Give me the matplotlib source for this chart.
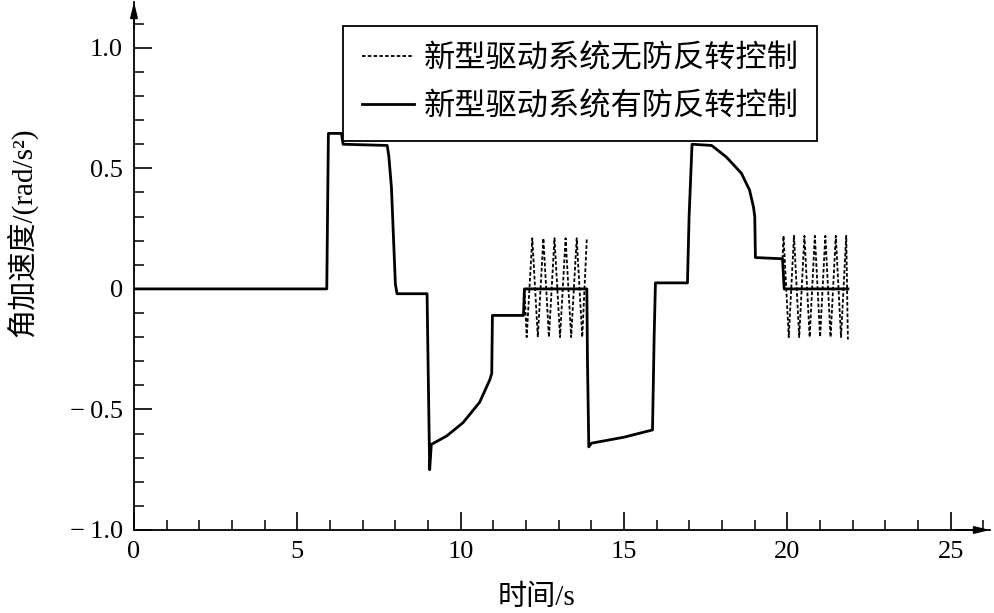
import matplotlib
matplotlib.use('Agg')
import matplotlib.pyplot as plt
import numpy as np
from matplotlib.ticker import MultipleLocator

# ---- data ----
# with anti-reversal control (solid)
solid_t = [0, 5.9, 5.95, 6.35, 6.4, 7.75, 7.8, 7.88, 8.0, 8.05, 8.97, 9.0, 9.05, 9.1,
           9.57, 10.07, 10.58, 10.89, 10.95, 10.97, 11.92, 11.95, 13.86, 13.88, 13.92,
           14.0, 15.0, 15.87, 15.92, 15.96, 16.94, 16.99, 17.08, 17.68, 18.13, 18.59,
           18.84, 18.96, 19.0, 19.02, 19.85, 19.9, 21.85]
solid_y = [0, 0, 0.645, 0.645, 0.6, 0.595, 0.55, 0.42, 0.02, -0.02, -0.02, -0.3, -0.75, -0.645,
           -0.61, -0.555, -0.47, -0.377, -0.35, -0.11, -0.11, 0.0, 0.0, -0.3, -0.655,
           -0.64, -0.615, -0.585, -0.2, 0.025, 0.025, 0.3, 0.6, 0.595, 0.547, 0.48,
           0.41, 0.34, 0.30, 0.13, 0.125, 0.0, 0.0]

# without anti-reversal control (dashed) - oscillating parts (elsewhere it coincides)
osc1_t = [11.95, 12.02, 12.19, 12.36, 12.53, 12.70, 12.87, 13.04, 13.21, 13.38, 13.55, 13.72, 13.86]
osc1_y = [0.0, -0.20, 0.21, -0.20, 0.21, -0.20, 0.21, -0.20, 0.21, -0.20, 0.21, -0.20, 0.21]
osc2_t = [19.85, 19.88, 20.04, 20.20, 20.36, 20.52, 20.68, 20.84, 21.00, 21.16, 21.32, 21.48, 21.64, 21.80, 21.85]
osc2_y = [0.125, 0.22, -0.20, 0.22, -0.20, 0.22, -0.20, 0.22, -0.20, 0.22, -0.20, 0.22, -0.20, 0.22, -0.21]

labels = ['新型驱动系统无防反转控制', '新型驱动系统有防反转控制']
yticks = [-1.0, -0.5, 0, 0.5, 1.0]
yticklabels = ['\u2212\u20091.0', '\u2212\u20090.5', '0', '0.5', '1.0']
xticks = [0, 5, 10, 15, 20, 25]
xticklabels = ['0', '5', '10', '15', '20', '25']

plt.rcParams['font.family'] = ['Liberation Serif', 'Noto Sans CJK SC', 'DejaVu Sans']

fig = plt.figure(figsize=(9.95, 6.13), dpi=100)
W, H = 995, 613
ax = fig.add_axes([134 / W, (H - 530) / H, (990 - 134) / W, (530 - 2) / H])
ax.set_xlim(0, 26.2)
ax.set_ylim(-1.0, 1.19)

dash = (0, (2.0, 1.2))
ax.plot(osc1_t, osc1_y, color='black', lw=1.3, linestyle=dash, label=labels[0])
ax.plot(osc2_t, osc2_y, color='black', lw=1.3, linestyle=dash)
ax.plot(solid_t, solid_y, color='black', lw=2.0, label=labels[1])

for s in ['top', 'right']:
    ax.spines[s].set_visible(False)
for s in ['left', 'bottom']:
    ax.spines[s].set_linewidth(1.3)

ax.set_xticks(xticks)
ax.set_xticklabels(xticklabels)
ax.set_yticks(yticks)
ax.set_yticklabels(yticklabels)
ax.xaxis.set_minor_locator(MultipleLocator(1))
ax.yaxis.set_minor_locator(MultipleLocator(0.1))
ax.tick_params(which='major', direction='in', length=13, width=1.2, labelsize=19, pad=8)
ax.tick_params(which='minor', direction='in', length=7, width=1.1)

# arrows at axis ends
ax.annotate('', xy=(1.0, 0), xycoords='axes fraction', xytext=(0.96, 0),
            arrowprops=dict(arrowstyle='-|>,head_length=0.9,head_width=0.22', color='black',
                            lw=1.3, shrinkA=0, shrinkB=0), annotation_clip=False)
ax.annotate('', xy=(0, 1.0), xycoords='axes fraction', xytext=(0, 0.95),
            arrowprops=dict(arrowstyle='-|>,head_length=0.9,head_width=0.22', color='black',
                            lw=1.3, shrinkA=0, shrinkB=0), annotation_clip=False)

ax.set_xlabel('时间/s', fontsize=21)
ax.xaxis.label.set_va('center')
ax.xaxis.set_label_coords((537 - 134) / 856, (530 - 598) / 528)
ax.set_ylabel('角加速度/(rad/s²)', fontsize=21)
ax.yaxis.label.set_va('center')
ax.yaxis.set_label_coords((22 - 134) / 856, (530 - 232) / 528)

leg = ax.legend(loc='upper left', bbox_to_anchor=(343 / W, 1 - 26 / H),
                bbox_transform=fig.transFigure, borderaxespad=0, fontsize=22.5,
                frameon=True, fancybox=False, framealpha=1, edgecolor='black',
                handlelength=1.66, handletextpad=0.32, borderpad=0.6, labelspacing=0.6)
leg.get_frame().set_linewidth(1.3)
leg.set_zorder(5)

fig.savefig('out.png', dpi=100)
